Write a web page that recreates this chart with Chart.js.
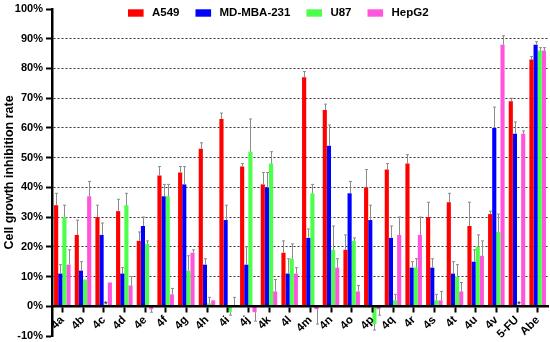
<!DOCTYPE html>
<html><head><meta charset="utf-8">
<script src="https://cdn.jsdelivr.net/npm/chart.js@4/dist/chart.umd.min.js"></script>
<style>html,body{margin:0;padding:0;background:#fff}</style>
</head><body>
<canvas id="c" width="550" height="342"></canvas>
<script>
// ---- data ----
const categories = ['4a','4b','4c','4d','4e','4f','4g','4h','4i','4j','4k','4l','4m','4n','4o','4p','4q','4r','4s','4t','4u','4v','5-FU','Abe'];
const seriesNames = ['A549','MD-MBA-231','U87','HepG2'];
const a549      = [34,24,30,32,22,44,45,53,63,47,41,18,77,66,19,40,46,48,30,35,27,31,69,83];
const a549Err   = [ 4, 5, 4, 4, 3, 3, 2, 2, 2, 1, 4, 4, 2, 2, 5, 6, 2, 3, 5, 3, 8, 1, 1, 1];
const mdmba     = [11,12,24,11,27,37,41,14,29,14,40,11,23,54,38,29,23,13,13,11,15,60,58,88];
const mdmbaErr  = [ 3, 3, 4, 2, 3, 4, 6, 2, 5, 6, 5, 5, 3, 7, 4, 5, 4, 2, 3, 4, 4, 7, 4, 1];
const u87       = [30, 9, 0,34,21,37,12, 1,-2,52,48,16,38,19,22,-6, 2,13, 2,10,20,25, 0,86];
const u87Err    = [ 4, 0, 0, 4, 1, 4, 5, 2, 1,11, 4, 5, 3, 8, 1, 2, 2, 3, 2, 4, 4, 6, 0, 1];
const hepg2     = [14,37, 8, 7,-1, 4,18, 2, 0,-2, 5,11,-1,13, 5,-1,24,24, 2, 5,17,88,58,86];
const hepg2Err  = [ 5, 5, 0, 3, 1, 2, 1, 0, 3, 3, 4, 2, 5, 3, 2, 2, 6, 6, 3, 3, 5, 3, 1, 1];
const u87Markers = ['4c','5-FU'];
const yMin = -10, yMax = 100, yStep = 10;

const FONT = '"Liberation Sans", Arial, Helvetica, sans-serif';
const colors = ['#ff0000','#0000ff','#4dff4d','#ff55dd'];
const values = [a549, mdmba, u87, hepg2];
const errs = [a549Err, mdmbaErr, u87Err, hepg2Err];

const errorBars = {
  id: 'errorBars',
  afterDatasetsDraw(chart) {
    const ctx = chart.ctx, ys = chart.scales.y;
    ctx.save();
    ctx.strokeStyle = '#8c8c8c';
    ctx.lineWidth = 1;
    chart.data.datasets.forEach((ds, i) => {
      const meta = chart.getDatasetMeta(i);
      meta.data.forEach((bar, j) => {
        const v = ds.data[j], e = ds.errors[j];
        if (!e) return;
        const dir = v < 0 ? -1 : 1;
        const y0 = ys.getPixelForValue(v), y1 = ys.getPixelForValue(v + dir * e);
        const x = Math.round(bar.x) + 0.5;
        ctx.beginPath();
        ctx.moveTo(x, y0); ctx.lineTo(x, y1);
        ctx.moveTo(x - 1.5, y1); ctx.lineTo(x + 1.5, y1);
        ctx.stroke();
      });
    });
    const meta = chart.getDatasetMeta(2);
    ctx.fillStyle = '#444';
    ctx.font = 'bold 9px ' + FONT;
    ctx.textAlign = 'center';
    ctx.textBaseline = 'middle';
    u87Markers.forEach(c => {
      const j = categories.indexOf(c);
      if (j < 0) return;
      ctx.fillText('*', meta.data[j].x, ys.getPixelForValue(0) - 2);
    });
    ctx.restore();
  }
};

const topLegend = {
  id: 'topLegend',
  afterDraw(chart) {
    const ctx = chart.ctx;
    ctx.save();
    ctx.font = 'bold 11.5px ' + FONT;
    ctx.textBaseline = 'middle';
    ctx.textAlign = 'left';
    let x = 128; const yc = 13;
    chart.data.datasets.forEach(ds => {
      ctx.fillStyle = ds.backgroundColor;
      ctx.fillRect(x, yc - 3.7, 15.6, 7.4);
      ctx.fillStyle = '#000';
      ctx.fillText(ds.label, x + 24, yc);
      x += 24 + ctx.measureText(ds.label).width + 16;
    });
    ctx.restore();
  }
};

new Chart(document.getElementById('c'), {
  type: 'bar',
  data: {
    labels: categories,
    datasets: seriesNames.map((n, i) => ({
      label: n, data: values[i], errors: errs[i],
      backgroundColor: colors[i], borderWidth: 0,
      categoryPercentage: 0.8, barPercentage: 1.0
    }))
  },
  options: {
    responsive: false, animation: false, devicePixelRatio: 1,
    layout: { padding: { left: 0, right: 2, top: 9, bottom: 6 } },
    plugins: { legend: { display: false }, tooltip: { enabled: false } },
    scales: {
      x: {
        type: 'category', position: { y: 0 }, offset: true,
        grid: { display: true, drawOnChartArea: false, drawTicks: true, tickLength: 5, tickColor: '#000', tickWidth: 2, offset: false, z: 1 },
        border: { display: true, color: '#000', width: 2.5, z: 1 },
        ticks: { autoSkip: false, maxRotation: 45, minRotation: 45, padding: 2, color: '#000', z: 1,
                 font: { family: FONT, size: 11.5, weight: 'bold' } },
        afterFit(s) { s.paddingLeft = 0; s.paddingRight = 0; s.paddingTop = 0; s.paddingBottom = 0; }
      },
      y: {
        min: yMin, max: yMax,
        ticks: { stepSize: yStep, callback: v => v + '%', color: '#000', padding: 3,
                 font: { family: FONT, size: 11, weight: 'bold' } },
        grid: { color: c => (c.tick && c.tick.value > 0 && c.tick.value < 100) ? '#333' : 'rgba(0,0,0,0)',
                lineWidth: 1, tickColor: '#000', tickLength: 6, tickWidth: 2 },
        border: { color: '#000', width: 2.5, dash: [2, 2] },
        title: { display: true, text: 'Cell growth inhibition rate', color: '#000',
                 font: { family: FONT, size: 12.5, weight: 'bold' }, padding: { top: 2, bottom: 0 } },
        afterFit(s) { s.width = 52; s.paddingTop = 0; s.paddingBottom = 0; }
      }
    }
  },
  plugins: [errorBars, topLegend]
});
</script>
</body></html>
